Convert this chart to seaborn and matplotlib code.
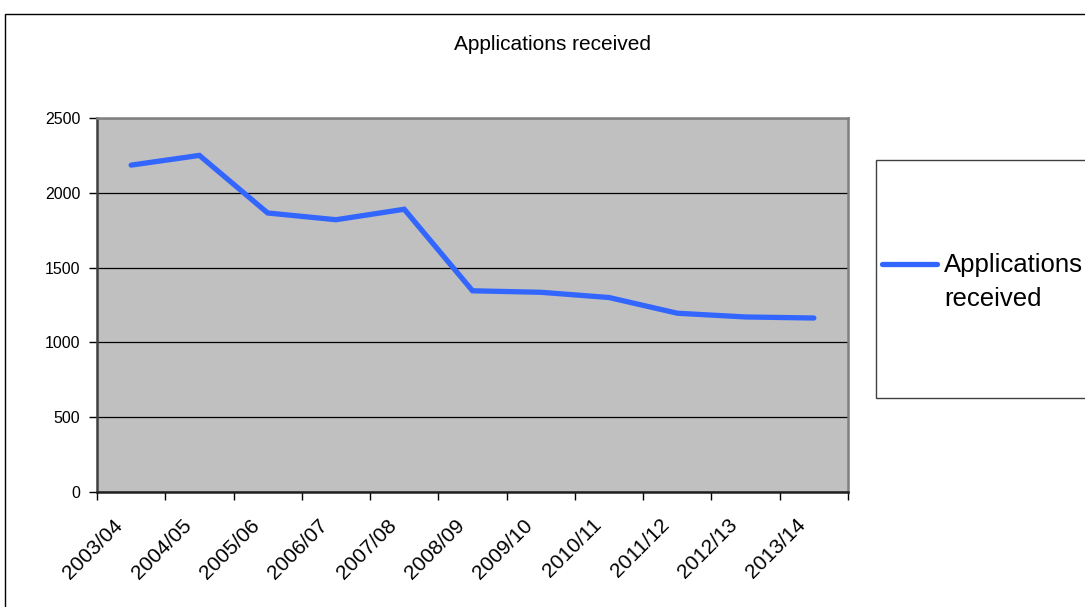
import matplotlib
matplotlib.use("Agg")
import matplotlib.pyplot as plt
import matplotlib.transforms as mtransforms
import seaborn as sns
import pandas as pd
from matplotlib.patches import Rectangle

categories = ["2003/04", "2004/05", "2005/06", "2006/07", "2007/08", "2008/09",
              "2009/10", "2010/11", "2011/12", "2012/13", "2013/14"]
applications = [2185, 2250, 1865, 1820, 1890, 1345, 1335, 1300, 1195, 1170, 1163]
y_ticks = [0, 500, 1000, 1500, 2000, 2500]
series_name = "Applications\nreceived"
title = "Applications received"

sns.set_theme(style="white")
plt.rcParams["font.family"] = ["Liberation Sans", "DejaVu Sans"]

W, H = 1085, 607
fig = plt.figure(figsize=(W / 100, H / 100), dpi=100)
fig.patch.set_facecolor("white")
ax = fig.add_axes([97 / W, 1 - 492 / H, 751 / W, 374 / H])

df = pd.DataFrame({"Year": categories, "Applications": applications})
sns.lineplot(data=df, x="Year", y="Applications", ax=ax, color="#3366FF",
             linewidth=3.8, solid_capstyle="round", solid_joinstyle="miter",
             label=series_name, sort=False)

ax.set_facecolor("#C0C0C0")
ax.set_xlim(-0.5, len(categories) - 0.5)
ax.set_ylim(0, 2500)
ax.set_yticks(y_ticks)
ax.set_yticklabels([str(v) for v in y_ticks], fontsize=11.5, color="black")
ax.yaxis.grid(True, color="black", linewidth=0.9)
ax.set_axisbelow(True)

# category boundaries as major ticks, labels at centres as minor ticks
ax.set_xticks([i - 0.5 for i in range(len(categories) + 1)])
ax.set_xticklabels([])
ax.set_xticks(range(len(categories)), minor=True)
ax.set_xticklabels(categories, minor=True, rotation=45, ha="right", va="center",
                   rotation_mode="anchor", fontsize=15, color="black")
ax.tick_params(axis="x", which="major", direction="out", length=6, width=1,
               color="black", bottom=True)
ax.tick_params(axis="x", which="minor", length=0, pad=26)
ax.tick_params(axis="y", direction="out", length=6, width=1, color="black",
               left=True, pad=6)
ax.set_xlabel("")
ax.set_ylabel("")

shift = mtransforms.ScaledTranslation(-11 / 100, 6 / 100, fig.dpi_scale_trans)
for lbl in ax.get_xticklabels(minor=True):
    lbl.set_transform(lbl.get_transform() + shift)

for s in ["top", "right"]:
    ax.spines[s].set_color("#808080")
    ax.spines[s].set_linewidth(1.8)
ax.spines["left"].set_color("#404040")
ax.spines["left"].set_linewidth(1.8)
ax.spines["bottom"].set_color("#202020")
ax.spines["bottom"].set_linewidth(1.8)

ax.get_legend().remove()

fig.text(553 / W, 1 - 45 / H, title, ha="center", va="center", fontsize=15,
         color="black")

# outer chart border
fig.patches.append(Rectangle((5 / W, -0.2), 2, 1.2 - 14 / H, transform=fig.transFigure,
                             fill=False, edgecolor="black", linewidth=1.0))
# legend box
fig.patches.append(Rectangle((876 / W, 1 - 398 / H), 1.0, (398 - 160) / H,
                             transform=fig.transFigure, fill=True, facecolor="white",
                             edgecolor="#404040", linewidth=1.0))

handles, labels = ax.get_legend_handles_labels()
leg = fig.legend(handles, labels, loc="center left",
                 bbox_to_anchor=(882 / W, 1 - 282 / H), frameon=False,
                 fontsize=18.5, handlelength=2.15, handletextpad=0.27,
                 borderpad=0, borderaxespad=0)
for t in leg.get_texts():
    t.set_linespacing(1.5)
    t.set_color("black")
# place the legend line level with the first text line
lh = leg.legend_handles[0]
yd = lh.get_ydata()
lh.set_ydata([v + 13.5 for v in yd])

fig.savefig("out.png", dpi=100)
